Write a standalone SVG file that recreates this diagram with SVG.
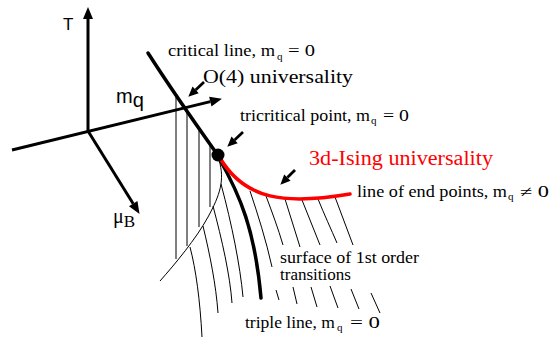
<svg xmlns="http://www.w3.org/2000/svg" width="552" height="337" viewBox="0 0 552 337">
<style>
.ax{stroke:#000;stroke-width:3;fill:none}
.thin{stroke:#000;stroke-width:1;fill:none}
.thick{stroke:#000;stroke-width:3.5;fill:none;stroke-linecap:round}
.red{stroke:#f00;stroke-width:3.5;fill:none;stroke-linecap:round}
.ptr{stroke:#000;stroke-width:2.8;fill:none}
.sans{font-family:"Liberation Sans",Arial,sans-serif;fill:#000}
.serif{font-family:"Liberation Serif","Times New Roman",serif;fill:#000}
</style>
<defs>
<marker id="axhead" markerUnits="userSpaceOnUse" markerWidth="12" markerHeight="10" refX="0" refY="5" orient="auto" overflow="visible">
<path d="M0,0 L12,5 L0,10 z" fill="#000"/>
</marker>
<marker id="ptrhead" markerUnits="userSpaceOnUse" markerWidth="10" markerHeight="9" refX="0" refY="4.5" orient="auto" overflow="visible">
<path d="M0,0 L10,4.5 L0,9 z" fill="#000"/>
</marker>
</defs>

<g id="surface-hatching">
<g id="vertical-hatch">
<line class="thin" x1="176" y1="95" x2="176" y2="259"/>
<line class="thin" x1="187" y1="111" x2="187" y2="246"/>
<line class="thin" x1="199" y1="128" x2="199" y2="227"/>
<line class="thin" x1="210" y1="144" x2="210" y2="207"/>
</g>
<path id="boundary-curve" class="thin" d="M219 160 C225 180,220 195,208 217 S175 264,160 281"/>
<g id="first-order-hatch">
<path class="thin" d="M190 247 C196 270,200 300,202 337"/>
<path class="thin" d="M203 226 C210 255,216 285,218 313"/>
<path class="thin" d="M213 206 C222 240,230 275,232 303"/>
<path class="thin" d="M221 184 C232 225,240 265,243 297"/>
<path class="thin" d="M250 191 C258 215,266 240,272 267"/>
<path class="thin" d="M266 196 C272 212,278 228,283 245"/>
<path class="thin" d="M285 199 C290 215,295 231,300 247"/>
<path class="thin" d="M302 200 C308 215,314 230,320 245"/>
<path class="thin" d="M318 199 C324 214,331 229,337 243"/>
<path class="thin" d="M335 197 C341 213,347 229,353 245"/>
<line class="thin" x1="276" y1="290" x2="279" y2="300"/>
<line class="thin" x1="293" y1="287" x2="297" y2="304"/>
<line class="thin" x1="311" y1="287" x2="317" y2="307"/>
<line class="thin" x1="330" y1="286" x2="338" y2="308"/>
<line class="thin" x1="351" y1="289" x2="359" y2="309"/>
<line class="thin" x1="371" y1="293" x2="380" y2="313"/>
</g>
</g>

<g id="axes">
<line class="ax" x1="88" y1="131" x2="88" y2="19" marker-end="url(#axhead)"/>
<line class="ax" x1="12" y1="150" x2="210.3" y2="101.6" marker-end="url(#axhead)"/>
<line class="ax" x1="88" y1="131" x2="133.2" y2="203.7" marker-end="url(#axhead)"/>
<text id="label-T" class="sans" x="63" y="30" font-size="17">T</text>
<text id="label-mq" class="sans" x="116" y="103" font-size="20">m<tspan dy="4">q</tspan></text>
<text id="label-muB" class="serif" x="113" y="223" font-size="20">μ<tspan font-size="17" dy="4">B</tspan></text>
</g>

<g id="phase-lines">
<path id="critical-line" class="thick" d="M148 53 Q175 95 217 154"/>
<path id="triple-line" class="thick" d="M219 158 C240 195,255 230,261 298"/>
<path id="endpoint-line" class="red" d="M220 158 C245 200,285 205,350 194"/>
<circle id="tricritical-point" cx="218" cy="155" r="6.5" fill="#000"/>
</g>

<g id="connectors">
<line class="ptr" x1="204" y1="82" x2="195.6" y2="89.9" marker-end="url(#ptrhead)"/>
<line class="ptr" x1="243" y1="132" x2="234.6" y2="139.9" marker-end="url(#ptrhead)"/>
<line class="ptr" x1="295" y1="170" x2="287.4" y2="177.6" marker-end="url(#ptrhead)"/>
</g>

<g id="labels">
<g id="label-critical">
<text class="serif" x="168" y="56" font-size="16" textLength="107" lengthAdjust="spacingAndGlyphs">critical line, m</text>
<text class="serif" x="277" y="60" font-size="11">q</text>
<text class="serif" x="288" y="56" font-size="16" textLength="27" lengthAdjust="spacingAndGlyphs">= 0</text>
</g>
<text id="label-o4" class="serif" x="203" y="83" font-size="19" textLength="150" lengthAdjust="spacingAndGlyphs">O(4) universality</text>
<g id="label-tricritical">
<text class="serif" x="240" y="121" font-size="16" textLength="130" lengthAdjust="spacingAndGlyphs">tricritical point, m</text>
<text class="serif" x="371" y="124" font-size="11">q</text>
<text class="serif" x="383" y="121" font-size="16" textLength="26" lengthAdjust="spacingAndGlyphs">= 0</text>
</g>
<text id="label-ising" class="serif" x="309" y="165" font-size="20" style="fill:#f00" textLength="184" lengthAdjust="spacingAndGlyphs">3d-Ising universality</text>
<g id="label-endpoints">
<text class="serif" x="357" y="197" font-size="16" textLength="150" lengthAdjust="spacingAndGlyphs">line of end points, m</text>
<text class="serif" x="508" y="200" font-size="11">q</text>
<text class="serif" x="520" y="197" font-size="16" textLength="29" lengthAdjust="spacingAndGlyphs">≠ 0</text>
</g>
<g id="label-surface">
<text class="serif" x="280" y="263" font-size="16" textLength="139" lengthAdjust="spacingAndGlyphs">surface of 1st order</text>
<text class="serif" x="280" y="280" font-size="16" textLength="71" lengthAdjust="spacingAndGlyphs">transitions</text>
</g>
<g id="label-triple">
<text class="serif" x="245" y="328" font-size="16" textLength="90" lengthAdjust="spacingAndGlyphs">triple line, m</text>
<text class="serif" x="337" y="331" font-size="11">q</text>
<text class="serif" x="350" y="328" font-size="16" textLength="30" lengthAdjust="spacingAndGlyphs">= 0</text>
</g>
</g>
</svg>
